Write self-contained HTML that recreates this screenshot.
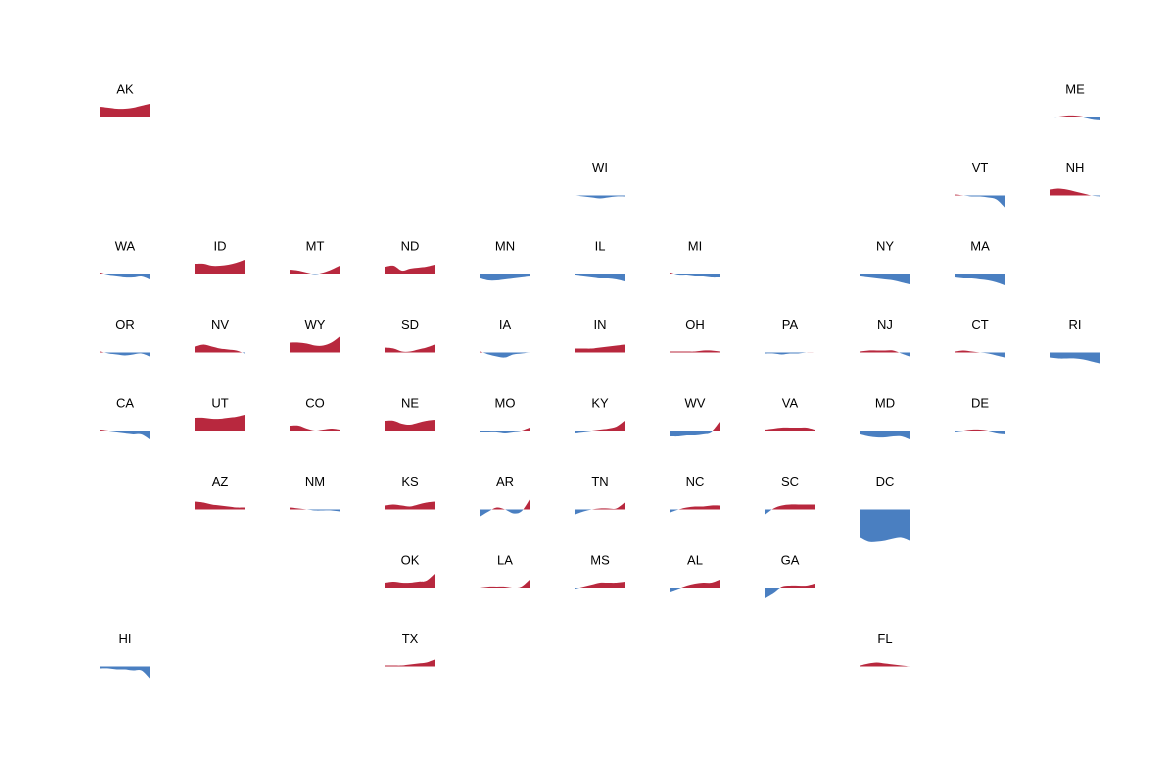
<!DOCTYPE html>
<html><head><meta charset="utf-8"><style>
body{margin:0;background:#fff}
svg{display:block}
text{font-family:"Liberation Sans",Arial,sans-serif;font-size:13px;fill:#000}
</style></head><body>
<svg id="chart" width="1150" height="762" viewBox="0 0 1150 762"></svg>
<script>
const states=["AK","ME","WI","VT","NH","WA","ID","MT","ND","MN","IL","MI","NY","MA","OR","NV","WY","SD","IA","IN","OH","PA","NJ","CT","RI","CA","UT","CO","NE","MO","KY","WV","VA","MD","DE","AZ","NM","KS","AR","TN","NC","SC","DC","OK","LA","MS","AL","GA","HI","TX","FL"];
const cols=[0,10,5,9,10,0,1,2,3,4,5,6,8,9,0,1,2,3,4,5,6,7,8,9,10,0,1,2,3,4,5,6,7,8,9,1,2,3,4,5,6,7,8,3,4,5,6,7,0,3,8];
const rows=[0,0,1,1,1,2,2,2,2,2,2,2,2,2,3,3,3,3,3,3,3,3,3,3,3,4,4,4,4,4,4,4,4,4,4,5,5,5,5,5,5,5,5,6,6,6,6,6,7,7,7];
const AK=[10,9,8,8,9,11,13],ME=[0,0,1,1,0,-2,-3],WI=[0,-1,-2,-3,-2,-1,-1],VT=[1,0,-1,-1,-2,-4,-12],NH=[6,7,6,4,2,0,-1];
const WA=[1,-1,-2,-3,-3,-2,-5],ID=[10,10,8,8,9,11,14],MT=[4,3,1,-0.5,1,4,8],ND=[7,8,3,5,6,7,9],MN=[-4,-6,-6,-5,-4,-3,-2],IL=[-1,-2,-3,-4,-4,-5,-7],MI=[1,-1,-1,-2,-2,-3,-3],NY=[-2,-3,-4,-5,-6,-8,-10],MA=[-3,-4,-4,-5,-6,-8,-11];
const OR=[1,-1,-2,-3,-2,-1,-4],NV=[6,8,6,4,3,2,-1],WY=[10,10,9,7,7,10,16],SD=[5,4,1,1,3,5,8],IA=[1,-2,-4,-5,-2,-1,0],IN=[4,4,4,5,6,7,8],OH=[1,1,1,1,2,2,1],PA=[-1,-1,-2,-1,-1,0,0],NJ=[1,2,2,2,2,-1,-4],CT=[1,2,1,0,-1,-3,-5],RI=[-5,-6,-6,-6,-7,-9,-11];
const CA=[1,0,-1,-2,-3,-3,-8],UT=[13,13,12,12,13,14,16],CO=[5,5,2,0,1,2,1],NE=[10,10,7,6,8,10,11],MO=[-1,-1,-1,-2,-1,0,3],KY=[-2,-1,0,1,2,4,10],WV=[-5,-5,-4,-4,-3,-1,9],VA=[1,2,3,3,3,3,1],MD=[-3,-5,-6,-6,-5,-5,-8],DE=[-1,0,1,1,0,-2,-3];
const AZ=[8,7,5,4,3,2,2],NM=[2,1,0,-1,-1,-1,-2],KS=[4,5,4,3,5,7,8],AR=[-7,-2,2,0,-4,-2,10],TN=[-5,-2,0,1,1,1,7],NC=[-3,0,2,3,3,4,4],SC=[-5,1,4,5,5,5,5],DC=[-28,-32,-32,-31,-29,-28,-31];
const OK=[5,6,5,5,6,7,14],LA=[0,1,1,1,0,1,8],MS=[-1,1,3,5,5,5,6],AL=[-4,-1,2,4,5,5,8],GA=[-10,-5,1,2,2,2,4],HI=[-2,-2,-3,-3,-4,-4,-12],TX=[1,1,1,2,3,4,7],FL=[1,3,4,3,2,1,0];
const values={AK,ME,WI,VT,NH,WA,ID,MT,ND,MN,IL,MI,NY,MA,OR,NV,WY,SD,IA,IN,OH,PA,NJ,CT,RI,CA,UT,CO,NE,MO,KY,WV,VA,MD,DE,AZ,NM,KS,AR,TN,NC,SC,DC,OK,LA,MS,AL,GA,HI,TX,FL};

const NS="http://www.w3.org/2000/svg";
const svg=document.getElementById('chart');
const colX=c=>125+95*c;
const rowY=r=>88+78.5*r;
const W=50;
function mk(t,a){const e=document.createElementNS(NS,t);for(const k in a)e.setAttribute(k,a[k]);return e;}
const defs=mk('defs',{});svg.appendChild(defs);
states.forEach((s,i)=>{
  const cx=colX(cols[i]),ly=rowY(rows[i]),base=ly+29;
  const v=values[s];const n=v.length;
  const xs=k=>cx-W/2+W*k/(n-1);
  const ys=val=>base-val;
  const pts=v.map((val,k)=>[xs(k),ys(val)]);
  let d=`M${pts[0][0]},${base}L${pts[0][0]},${pts[0][1]}`;
  for(let k=0;k<n-1;k++){
    const p0=pts[Math.max(k-1,0)],p1=pts[k],p2=pts[k+1],p3=pts[Math.min(k+2,n-1)];
    const c1=[p1[0]+(p2[0]-p0[0])/6,p1[1]+(p2[1]-p0[1])/6];
    const c2=[p2[0]-(p3[0]-p1[0])/6,p2[1]-(p3[1]-p1[1])/6];
    d+=`C${c1[0]},${c1[1]} ${c2[0]},${c2[1]} ${p2[0]},${p2[1]}`;
  }
  d+=`L${pts[n-1][0]},${base}Z`;
  const ca=mk('clipPath',{id:'a'+s});ca.appendChild(mk('rect',{x:cx-W/2-1,y:base-60,width:W+2,height:60}));defs.appendChild(ca);
  const cb=mk('clipPath',{id:'b'+s});cb.appendChild(mk('rect',{x:cx-W/2-1,y:base,width:W+2,height:60}));defs.appendChild(cb);
  const g=mk('g',{});
  
  
  const t=mk('text',{x:cx,y:ly+5.5,'text-anchor':'middle'});t.textContent=s;
  
  
  g.appendChild(t);
  const r=mk('path',{d:d,fill:'#b8283e','clip-path':`url(#a${s})`});
  
  
  const b=mk('path',{d:d,fill:'#4a7fc1','clip-path':`url(#b${s})`});
  
  
  g.appendChild(r);g.appendChild(b);
  svg.appendChild(g);
});
</script>
</body></html>
